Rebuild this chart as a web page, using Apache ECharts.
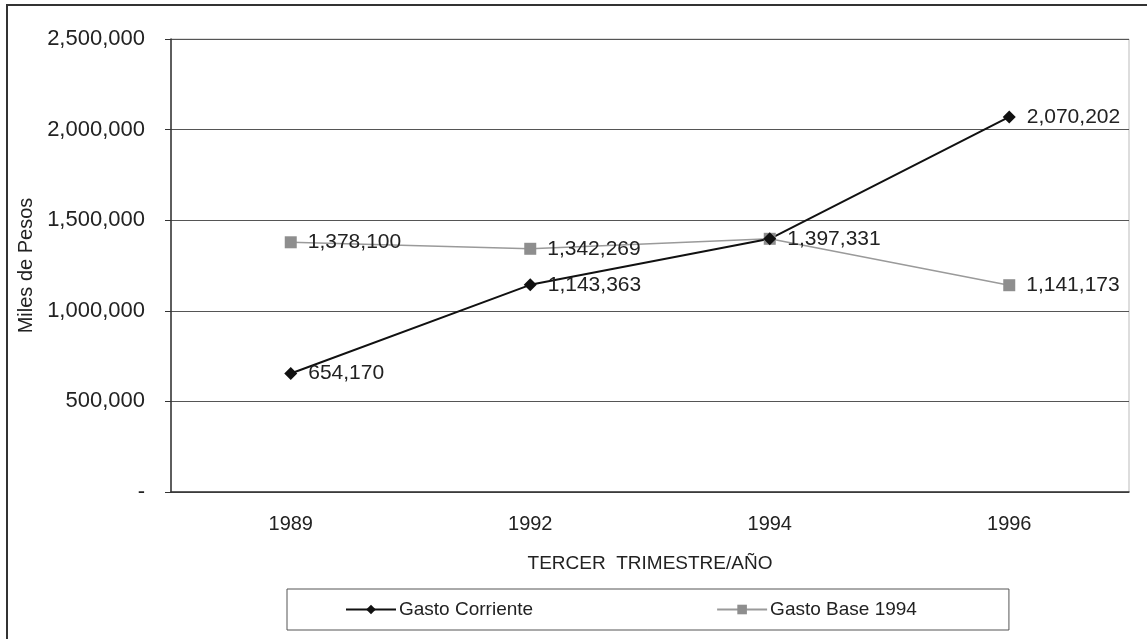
<!DOCTYPE html>
<html lang="es">
	<head>
		<meta charset="UTF-8" />
		<title>Gasto Corriente</title>
		<script src="https://cdn.jsdelivr.net/npm/echarts@6/dist/echarts.min.js"></script>
		<style>
			html, body { margin: 0; padding: 0; background: #fff; }
		</style>
	</head>
	<body>
		<div id="myChart" style="width: 1147px; height: 639px"></div>

		<script>
			const years = ["1989", "1992", "1994", "1996"];
			const gastoCorriente = [654170, 1143363, 1397331, 2070202];
			const gastoBase1994 = [1378100, 1342269, 1397331, 1141173];
			const yTicks = [0, 500000, 1000000, 1500000, 2000000, 2500000];

			const font = "Liberation Sans, Arial, sans-serif";
			const fmt = (v) => (v === 0 ? "-" : v.toLocaleString("en-US"));

			const myChart = echarts.init(document.getElementById("myChart"));

			const dataLabel = {
				show: true,
				position: "right",
				distance: 11,
				fontSize: 21,
				color: "#222",
				fontFamily: font,
				formatter: (p) => fmt(p.value),
			};

			const option = {
				animation: false,
				backgroundColor: "#fff",
				textStyle: { fontFamily: font },
				graphic: [
					{
						type: "rect",
						shape: { x: 7, y: 5, width: 1160, height: 660 },
						style: { fill: "none", stroke: "#333", lineWidth: 2 },
					},
				],
				grid: {
					left: 171,
					right: 18,
					top: 39,
					bottom: 147,
					show: true,
					borderColor: "#bbb",
					borderWidth: 1,
				},
				xAxis: {
					type: "category",
					data: years,
					boundaryGap: true,
					name: "TERCER  TRIMESTRE/AÑO",
					nameLocation: "middle",
					nameGap: 62,
					nameTextStyle: { fontSize: 19, color: "#222", fontFamily: font },
					axisLine: { lineStyle: { color: "#333", width: 1.5 } },
					axisTick: { show: false },
					axisLabel: { fontSize: 20, color: "#222", margin: 22, fontFamily: font },
				},
				yAxis: {
					type: "value",
					min: yTicks[0],
					max: yTicks[yTicks.length - 1],
					interval: yTicks[1] - yTicks[0],
					name: "Miles de Pesos",
					nameLocation: "middle",
					nameGap: 130,
					nameTextStyle: { fontSize: 20, color: "#222", fontFamily: font },
					axisLine: { show: true, lineStyle: { color: "#333", width: 1.5 } },
					axisTick: { show: true, length: 6, lineStyle: { color: "#333" } },
					axisLabel: {
						fontSize: 22,
						color: "#222",
						margin: 26,
						fontFamily: font,
						formatter: fmt,
					},
					splitLine: { lineStyle: { color: "#555", width: 1 } },
				},
				legend: {
					left: 287,
					top: 589,
					orient: "horizontal",
					itemWidth: 50,
					itemHeight: 12,
					itemGap: 183,
					padding: [11, 92, 11, 58],
					borderColor: "#555",
					borderWidth: 1,
					textStyle: { fontSize: 19, color: "#222", fontFamily: font, padding: [0, 0, 0, -2] },
					data: ["Gasto Corriente", "Gasto Base 1994"],
				},
				series: [
					{
						name: "Gasto Base 1994",
						type: "line",
						data: gastoBase1994,
						symbol: "rect",
						symbolSize: 12,
						itemStyle: { color: "#8e8e8e" },
						lineStyle: { color: "#9a9a9a", width: 1.5 },
						label: dataLabel,
						labelLayout: { hideOverlap: true },
					},
					{
						name: "Gasto Corriente",
						type: "line",
						data: gastoCorriente,
						symbol: "diamond",
						symbolSize: 13,
						itemStyle: { color: "#111" },
						lineStyle: { color: "#111", width: 2 },
						label: dataLabel,
						labelLayout: { hideOverlap: true },
					},
				],
			};

			myChart.setOption(option);
		</script>
	</body>
</html>
